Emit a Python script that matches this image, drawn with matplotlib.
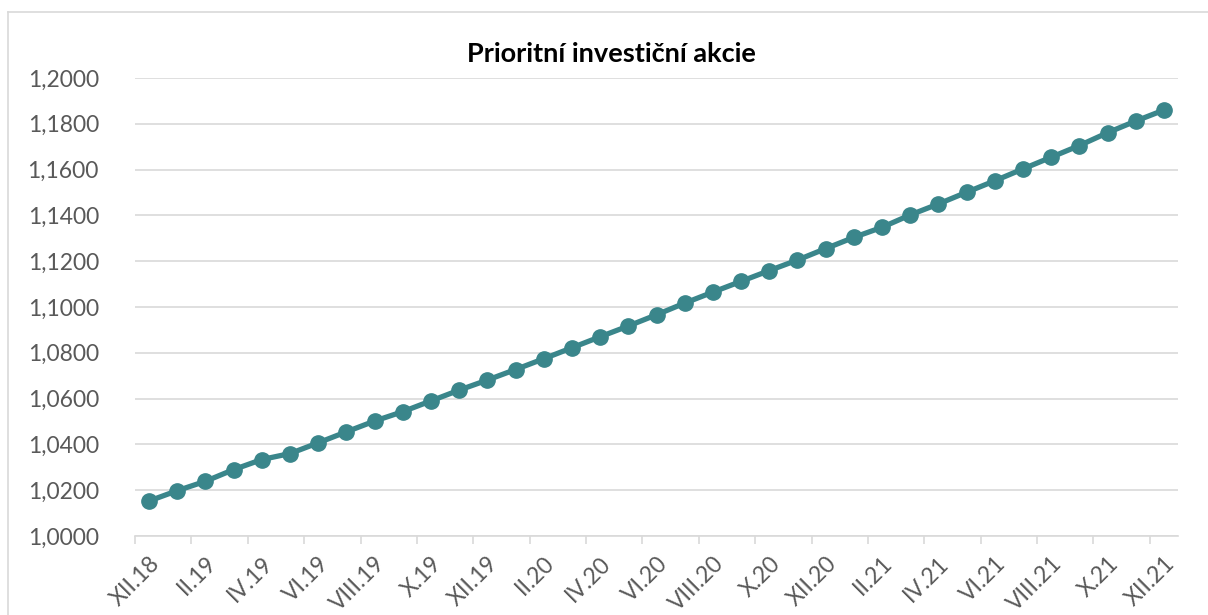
import matplotlib
matplotlib.use("Agg")
import matplotlib.pyplot as plt
from matplotlib.lines import Line2D
from matplotlib.ticker import FixedLocator, FuncFormatter

plt.rcParams["font.family"] = ["Lato", "DejaVu Sans"]

TITLE = "Prioritní investiční akcie"
ROMAN = ["I", "II", "III", "IV", "V", "VI", "VII", "VIII", "IX", "X", "XI", "XII"]
months = ["XII.18"] + [f"{m}.{y}" for y in (19, 20, 21) for m in ROMAN]
values = [1.0153, 1.0198, 1.0239, 1.0290, 1.0334, 1.0360, 1.0407, 1.0455,
          1.0502, 1.0543, 1.0590, 1.0637, 1.0681, 1.0727, 1.0774, 1.0822,
          1.0870, 1.0917, 1.0966, 1.1017, 1.1065, 1.1112, 1.1159, 1.1205,
          1.1255, 1.1304, 1.1348, 1.1402, 1.1450, 1.1501, 1.1551, 1.1603,
          1.1654, 1.1705, 1.1761, 1.1812, 1.1860]
y_ticks = [1.00, 1.02, 1.04, 1.06, 1.08, 1.10, 1.12, 1.14, 1.16, 1.18, 1.20]

LINE_C = "#3A868B"
GRID_C = "#D9D9D9"
TEXT_C = "#595959"

W, H = 1208, 615
fig = plt.figure(figsize=(W / 100, H / 100), dpi=100)
ax = fig.add_axes([135 / W, 1 - 536 / H, (1178 - 135) / W, (536 - 78) / H])

x = list(range(len(values)))
ax.plot(x, values, color=LINE_C, lw=3.8, marker="o", ms=11,
        solid_capstyle="round", zorder=3)

ax.set_xlim(-0.5, len(values) - 0.5)
ax.set_ylim(y_ticks[0], y_ticks[-1])

ax.set_yticks(y_ticks)
ax.yaxis.set_major_formatter(FuncFormatter(lambda v, p: f"{v:.4f}".replace(".", ",")))
ax.grid(axis="y", color=GRID_C, lw=1.2)
ax.set_axisbelow(True)

# category labels every second month, tick marks between category pairs
ax.xaxis.set_major_locator(FixedLocator(x[::2]))
ax.set_xticklabels(months[::2], rotation=45, ha="right", va="top",
                   rotation_mode="anchor")
ax.xaxis.set_minor_locator(FixedLocator([k - 0.5 for k in x[::2]]))
ax.tick_params(axis="x", which="major", length=0, pad=12)
ax.tick_params(axis="x", which="minor", length=6, width=1.2, color=GRID_C)
ax.tick_params(axis="y", length=0, pad=26)
ax.tick_params(labelsize=16.5, labelcolor=TEXT_C)

for s in ["top", "right", "left"]:
    ax.spines[s].set_visible(False)
ax.spines["bottom"].set_color(GRID_C)
ax.spines["bottom"].set_linewidth(1.2)

fig.text(611 / W, 1 - 54 / H, TITLE, ha="center", va="center",
         fontsize=19.5, fontweight="bold", color="black")

# chart area border (only top and left visible in the crop)
fig.add_artist(Line2D([8 / W, 8 / W], [0, 1 - 12 / H], color=GRID_C, lw=1.2))
fig.add_artist(Line2D([8 / W, 1], [1 - 12 / H, 1 - 12 / H], color=GRID_C, lw=1.2))

fig.savefig("out.png", dpi=100)
